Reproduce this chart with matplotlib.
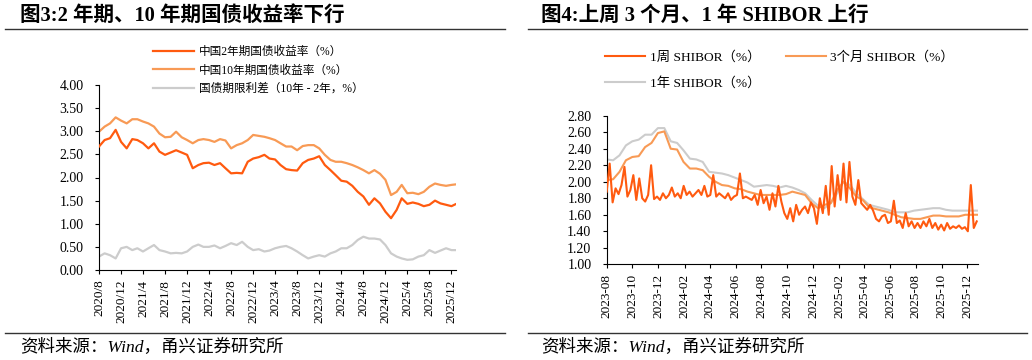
import pandas as pd
import matplotlib
matplotlib.use('Agg')
import matplotlib.pyplot as plt
from matplotlib.lines import Line2D

plt.rcParams['font.family'] = ['Liberation Serif', 'Noto Sans CJK SC']
plt.rcParams['axes.unicode_minus'] = False

# 图3：国债收益率（月度读数，最后一个点为 2025-12 下旬）
cgb_dates = pd.date_range('2020-08-01', periods=65, freq='MS').append(pd.DatetimeIndex(['2025-12-22']))
cgb_2y = [2.67, 2.81, 2.85, 3.03, 2.77, 2.63, 2.83, 2.81, 2.74, 2.63,
          2.74, 2.56, 2.49, 2.54, 2.59, 2.54, 2.49, 2.20, 2.27, 2.31,
          2.32, 2.27, 2.31, 2.20, 2.09, 2.10, 2.09, 2.34, 2.41, 2.44,
          2.49, 2.41, 2.39, 2.27, 2.18, 2.16, 2.15, 2.31, 2.38, 2.41,
          2.46, 2.27, 2.16, 2.05, 1.93, 1.91, 1.82, 1.69, 1.59, 1.41,
          1.55, 1.44, 1.26, 1.12, 1.30, 1.55, 1.43, 1.46, 1.43, 1.38,
          1.41, 1.50, 1.44, 1.41, 1.38, 1.42]
cgb_10y = [2.99, 3.10, 3.17, 3.30, 3.23, 3.17, 3.26, 3.26, 3.21, 3.17,
           3.10, 2.95, 2.87, 2.88, 2.99, 2.87, 2.81, 2.74, 2.81, 2.83,
           2.81, 2.77, 2.83, 2.80, 2.63, 2.70, 2.74, 2.81, 2.92, 2.90,
           2.88, 2.85, 2.81, 2.74, 2.67, 2.67, 2.59, 2.68, 2.70, 2.70,
           2.63, 2.49, 2.38, 2.34, 2.34, 2.31, 2.27, 2.22, 2.16, 2.09,
           2.16, 2.08, 1.95, 1.62, 1.69, 1.84, 1.66, 1.67, 1.64, 1.69,
           1.80, 1.87, 1.84, 1.82, 1.84, 1.85]
cgb_spread = [0.29, 0.36, 0.32, 0.25, 0.47, 0.50, 0.43, 0.47, 0.40, 0.47,
              0.54, 0.43, 0.40, 0.36, 0.37, 0.36, 0.40, 0.50, 0.55, 0.50,
              0.50, 0.53, 0.47, 0.52, 0.58, 0.54, 0.61, 0.50, 0.43, 0.45,
              0.40, 0.42, 0.47, 0.50, 0.52, 0.47, 0.40, 0.32, 0.25, 0.29,
              0.32, 0.29, 0.36, 0.40, 0.47, 0.47, 0.54, 0.65, 0.72, 0.68,
              0.68, 0.66, 0.54, 0.36, 0.29, 0.25, 0.22, 0.23, 0.29, 0.32,
              0.43, 0.37, 0.42, 0.47, 0.43, 0.43]

# 图4：SHIBOR（1周为周度读数，3个月/1年为半月读数）
shibor_1w = [1.88, 2.22, 1.75, 1.92, 1.85,
             1.96, 2.18, 1.82, 1.90,
             2.08, 1.78, 2.04, 1.80,
             1.76, 1.84, 2.20, 1.79,
             1.82, 1.78, 1.86, 1.80, 1.84,
             1.93, 1.82, 1.86, 1.80,
             1.95, 1.84, 1.88, 1.82,
             1.86, 1.90, 1.84, 1.95, 1.82,
             1.84, 2.08, 1.82, 1.86,
             1.83, 1.80, 1.86, 1.78, 1.82,
             1.84, 2.10, 1.80, 1.82,
             1.80, 1.78, 1.84, 1.72,
             1.90, 1.74, 1.82, 1.66, 1.86,
             1.70, 1.95, 1.76, 1.62,
             1.55, 1.68, 1.52, 1.72, 1.60,
             1.66, 1.70, 1.62, 1.75,
             1.68, 1.49, 1.80, 1.62,
             1.95, 1.60, 2.19, 1.70, 2.08,
             1.78, 2.22, 1.75, 2.24,
             1.82, 1.72, 2.02, 1.74,
             1.70, 1.66, 1.72, 1.65, 1.55,
             1.52, 1.58, 1.60, 1.50,
             1.52, 1.77, 1.50, 1.53,
             1.44, 1.62, 1.46, 1.52, 1.44,
             1.50, 1.44, 1.52, 1.46,
             1.55, 1.44, 1.50, 1.42,
             1.48, 1.41, 1.50, 1.43, 1.46,
             1.44, 1.47, 1.43, 1.45,
             1.40, 1.96, 1.44, 1.52]
shibor_3m = [2.02, 2.03, 2.12, 2.26, 2.30, 2.31, 2.42, 2.47, 2.59, 2.61,
             2.40, 2.39, 2.24, 2.16, 2.16, 2.14, 2.06, 2.00, 1.96, 1.95,
             1.92, 1.91, 1.88, 1.86, 1.84, 1.84, 1.84, 1.84, 1.85, 1.88,
             1.86, 1.84, 1.74, 1.68, 1.72, 1.74, 1.90, 2.00, 1.92, 1.82,
             1.78, 1.69, 1.67, 1.65, 1.63, 1.60, 1.57, 1.56, 1.55, 1.55,
             1.57, 1.59, 1.59, 1.58, 1.58, 1.58, 1.60, 1.60, 1.60]
shibor_1y = [2.27, 2.26, 2.32, 2.44, 2.49, 2.51, 2.57, 2.57, 2.65, 2.65,
             2.49, 2.47, 2.38, 2.28, 2.27, 2.24, 2.12, 2.11, 2.10, 2.08,
             2.05, 2.02, 1.99, 1.94, 1.95, 1.96, 1.95, 1.93, 1.95, 1.93,
             1.90, 1.86, 1.78, 1.71, 1.68, 1.74, 1.86, 2.00, 1.96, 1.86,
             1.79, 1.72, 1.70, 1.68, 1.66, 1.63, 1.63, 1.63, 1.65, 1.66,
             1.67, 1.68, 1.68, 1.66, 1.65, 1.65, 1.65, 1.65, 1.65]
w_dates = pd.date_range('2023-08-01', periods=len(shibor_1w), freq='7D')
m_dates = pd.date_range('2023-08-01', '2025-12-26', periods=len(shibor_3m))

DARK = '#FF5A0F'
LIGHT = '#F89A55'
GREY = '#CCCCCC'

fig = plt.figure(figsize=(10.32, 3.6), dpi=100)


def style_axes(ax):
    for s in ['top', 'right']:
        ax.spines[s].set_visible(False)
    for s in ['left', 'bottom']:
        ax.spines[s].set_linewidth(0.8)
    ax.tick_params(axis='y', direction='out', length=3, width=0.8, pad=8, labelsize=10)
    ax.tick_params(axis='x', direction='out', length=3, width=0.8, pad=4, labelsize=9.5,
                   labelrotation=90)


def frame(x0, x1, title, tx):
    fig.add_artist(Line2D([x0, x1], [1 - 29 / 360, 1 - 29 / 360], color='#333333', lw=1))
    fig.add_artist(Line2D([x0, x1], [1 - 333 / 360, 1 - 333 / 360], color='#333333', lw=1))
    fig.text(tx, 1 - 16 / 360, title, fontsize=14.8, fontweight='bold', va='center', ha='left')
    fig.text(tx, 1 - 347 / 360, '资料来源：Wind，甬兴证券研究所', fontsize=12.6,
             style='italic', va='center', ha='left')


# ---- 左图 ----
ax1 = fig.add_axes([99 / 1032, 1 - 270 / 360, (456 - 99) / 1032, (270 - 85) / 360])
l1, = ax1.plot(cgb_dates, cgb_2y, color=DARK, lw=1.6, zorder=3)
l2, = ax1.plot(cgb_dates, cgb_10y, color=LIGHT, lw=1.6, zorder=2)
l3, = ax1.plot(cgb_dates, cgb_spread, color=GREY, lw=1.6, zorder=1)
ax1.set_ylim(0, 4)
ax1.set_yticks([i * 0.5 for i in range(9)])
ax1.set_yticklabels([f'{i * 0.5:.2f}' for i in range(9)])
ax1.set_xlim(pd.Timestamp('2020-08-01'), pd.Timestamp('2025-12-26'))
xt1 = pd.date_range('2020-08-01', '2025-12-01', freq='4MS')
ax1.set_xticks(xt1)
ax1.set_xticklabels([f'{d.year}/{d.month}' for d in xt1])
style_axes(ax1)
ax1.legend([l1, l2, l3], ['中国2年期国债收益率（%）', '中国10年期国债收益率（%）',
                          '国债期限利差（10年 - 2年，%）'],
           loc='upper left', bbox_to_anchor=(153 / 1032, 1 - 46 / 360),
           bbox_transform=fig.transFigure, frameon=False, fontsize=8.4,
           handlelength=3.5, handletextpad=0.45, labelspacing=0.55, borderpad=0,
           borderaxespad=0)
frame(5 / 1032, 505 / 1032, '图3:2 年期、10 年期国债收益率下行', 20 / 1032)

# ---- 右图 ----
ax2 = fig.add_axes([606.7 / 1032, 1 - 264.3 / 360, (978 - 606.7) / 1032, (264.3 - 115.7) / 360])
r1, = ax2.plot(w_dates, shibor_1w, color=DARK, lw=1.5, zorder=3)
r2, = ax2.plot(m_dates, shibor_3m, color=LIGHT, lw=1.5, zorder=2)
r3, = ax2.plot(m_dates, shibor_1y, color=GREY, lw=1.5, zorder=1)
ax2.set_ylim(1.0, 2.8)
yt2 = [1.0 + 0.2 * i for i in range(10)]
ax2.set_yticks(yt2)
ax2.set_yticklabels([f'{v:.2f}' for v in yt2])
ax2.set_xlim(pd.Timestamp('2023-08-01'), pd.Timestamp('2025-12-26'))
xt2 = pd.date_range('2023-08-01', '2025-12-01', freq='2MS')
ax2.set_xticks(xt2)
ax2.set_xticklabels([d.strftime('%Y-%m') for d in xt2])
style_axes(ax2)
ax2.legend([r1, r3, r2], ['1周 SHIBOR（%）', '1年 SHIBOR（%）', '3个月 SHIBOR（%）'],
           ncol=2, loc='upper left', bbox_to_anchor=(605 / 1032, 1 - 51 / 360),
           bbox_transform=fig.transFigure, frameon=False, fontsize=9.6,
           handlelength=3.0, handletextpad=0.35, labelspacing=1.0, columnspacing=1.9,
           borderpad=0, borderaxespad=0)
frame(528 / 1032, 1027 / 1032, '图4:上周 3 个月、1 年 SHIBOR 上行', 541 / 1032)

fig.savefig('out.png', dpi=100)
